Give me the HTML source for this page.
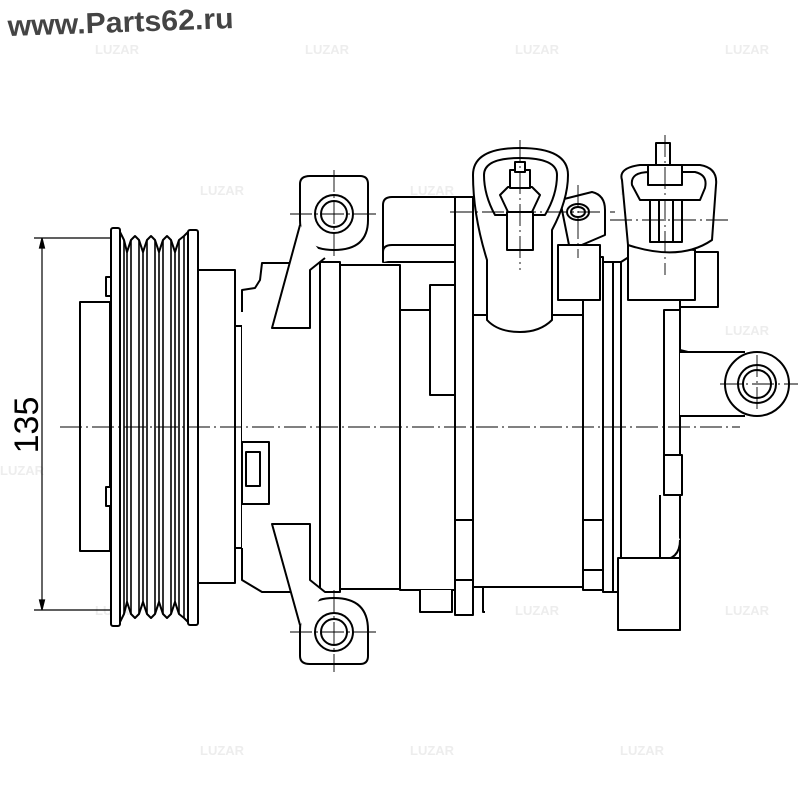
<!DOCTYPE html>
<html><head><meta charset="utf-8"><style>
html,body{margin:0;padding:0;background:#fff;}
svg{display:block;}
</style></head><body>
<svg width="800" height="800" viewBox="0 0 800 800" xmlns="http://www.w3.org/2000/svg">
<rect width="800" height="800" fill="#fff"/>
<g fill="#e2e2e2" font-family="Liberation Sans, sans-serif" font-size="13" font-weight="bold" opacity="0.6">
<text x="95" y="54">LUZAR</text><text x="305" y="54">LUZAR</text><text x="515" y="54">LUZAR</text><text x="725" y="54">LUZAR</text>
<text x="200" y="195">LUZAR</text><text x="410" y="195">LUZAR</text><text x="620" y="195">LUZAR</text>
<text x="95" y="335">LUZAR</text><text x="305" y="335">LUZAR</text><text x="515" y="335">LUZAR</text><text x="725" y="335">LUZAR</text>
<text x="0" y="475">LUZAR</text><text x="200" y="475">LUZAR</text><text x="410" y="475">LUZAR</text><text x="620" y="475">LUZAR</text>
<text x="95" y="615">LUZAR</text><text x="305" y="615">LUZAR</text><text x="515" y="615">LUZAR</text><text x="725" y="615">LUZAR</text>
<text x="200" y="755">LUZAR</text><text x="410" y="755">LUZAR</text><text x="620" y="755">LUZAR</text>
</g>
<text x="8" y="36" transform="rotate(-2 8 36)" font-family="Liberation Sans, sans-serif" font-weight="bold" font-size="29" fill="#444" textLength="226" lengthAdjust="spacingAndGlyphs">www.Parts62.ru</text>

<g fill="none" stroke="#000" stroke-width="1.2">
<line x1="34" y1="238" x2="110" y2="238"/><line x1="34" y1="610" x2="110" y2="610"/>
<line x1="42" y1="240" x2="42" y2="608"/>
<path d="M42 238 l-2.5 10 h5z M42 610 l-2.5 -10 h5z" fill="#000"/>
</g>
<text x="0" y="0" transform="translate(38 425) rotate(-90)" text-anchor="middle" font-family="Liberation Sans, sans-serif" font-size="34" fill="#000">135</text>

<g fill="#fff" stroke="#000" stroke-width="2" stroke-linejoin="round">
<rect x="80" y="302" width="30" height="249"/>
<rect x="106" y="277" width="5" height="19"/><rect x="106" y="487" width="5" height="19"/>
<rect x="111" y="228" width="9" height="398" rx="2"/>
<path d="M120 232 L124 240 L127 252 L131 240 L135 236 L139 240 L143 252 L147 240 L151 236 L155 240 L159 252 L163 240 L167 236 L171 240 L175 252 L179 240 L184 236 L188 232 L188 622 L184 618 L179 614 L175 602 L171 614 L167 618 L163 614 L159 602 L155 614 L151 618 L147 614 L143 602 L139 614 L135 618 L131 614 L127 602 L124 614 L120 622 Z"/>
<rect x="188" y="230" width="10" height="395" rx="2"/>
</g>
<g stroke="#000" stroke-width="1.6">
<line x1="124" y1="240" x2="124" y2="614"/><line x1="127" y1="252" x2="127" y2="602"/>
<line x1="131" y1="240" x2="131" y2="614"/><line x1="139" y1="240" x2="139" y2="614"/>
<line x1="143" y1="252" x2="143" y2="602"/><line x1="147" y1="240" x2="147" y2="614"/>
<line x1="155" y1="240" x2="155" y2="614"/><line x1="159" y1="252" x2="159" y2="602"/>
<line x1="163" y1="240" x2="163" y2="614"/><line x1="171" y1="240" x2="171" y2="614"/>
<line x1="175" y1="252" x2="175" y2="602"/><line x1="179" y1="240" x2="179" y2="614"/>
<line x1="184" y1="236" x2="184" y2="618"/>
</g>
<g fill="#fff" stroke="#000" stroke-width="2" stroke-linejoin="round">
<rect x="198" y="270" width="37" height="313"/>
<rect x="235" y="326" width="7" height="222"/>
<path d="M242 312 L242 290 L255 288 L260 280 L262 263 L290 263 L320 263 L320 592 L262 592 L242 580 L242 548"/>
<rect x="242" y="442" width="27" height="62"/>
<rect x="246" y="452" width="14" height="34"/>
<rect x="320" y="262" width="20" height="330"/>
<rect x="340" y="265" width="60" height="324"/>
<path d="M383 262 L383 205 Q383 197 392 197 L470 197 L470 262 Z"/>
<path d="M383 262 L383 252 Q383 245 392 245 L470 245"/>
<rect x="400" y="310" width="55" height="280"/>
<rect x="430" y="285" width="25" height="110"/>
<path d="M420 590 L420 612 L452 612 L452 590"/>
<rect x="455" y="197" width="18" height="418"/>
<line x1="455" y1="520" x2="473" y2="520"/>
<line x1="455" y1="580" x2="473" y2="580"/>
<rect x="473" y="315" width="110" height="272"/>
<path d="M483 587 L483 612 L485 612"/>
<rect x="583" y="257" width="20" height="333"/>
<line x1="583" y1="520" x2="603" y2="520"/><line x1="583" y1="570" x2="603" y2="570"/>
<rect x="603" y="262" width="10" height="330"/>
<rect x="613" y="262" width="8" height="330"/>
<path d="M560 200 L592 192 Q605 195 605 210 L605 235 L570 250 Z"/>
<ellipse cx="578" cy="212" rx="11" ry="8"/><ellipse cx="578" cy="212" rx="7" ry="5"/>
<rect x="558" y="245" width="42" height="55"/>
<path d="M473 175 Q473 148 520 148 Q568 148 568 175 Q568 200 552 230 L552 320 Q540 332 520 332 Q498 332 487 320 L487 260 Q473 215 473 175 Z"/>
<path d="M484 175 Q484 158 520 158 Q557 158 557 175 Q557 195 545 215 L495 215 Q484 195 484 175 Z"/>
<polygon points="500,195 508,187 532,187 540,195 532,212 508,212"/>
<rect x="510" y="170" width="20" height="18"/><rect x="515" y="162" width="10" height="10"/>
<rect x="507" y="212" width="26" height="38"/>
<path d="M621 262 L632 255 L680 255 L680 630 L621 630 Z"/>
<rect x="680" y="252" width="38" height="55"/>
<path d="M680 307 L680 350 L700 355"/>
<rect x="664" y="310" width="16" height="160"/>
<rect x="664" y="455" width="18" height="40"/>
<path d="M660 495 L660 560 Q680 560 680 540"/>
<rect x="618" y="558" width="62" height="72"/>
<circle cx="757" cy="384" r="32"/>
<rect x="680" y="352" width="40" height="64" stroke="none"/>
<path d="M680 352 L745 352 M680 416 L745 416"/>
<circle cx="757" cy="384" r="19"/><circle cx="757" cy="384" r="14"/>
<path d="M628 245 L628 300 L695 300 L695 250 Z"/>
<path d="M622 180 Q618 168 640 165 L700 165 Q718 168 716 185 L712 240 Q680 262 628 245 Z"/>
<path d="M632 185 Q630 172 650 172 L695 172 Q708 175 705 188 L700 200 L640 200 Z"/>
<rect x="648" y="165" width="34" height="20"/>
<rect x="656" y="143" width="14" height="22"/>
<rect x="650" y="200" width="32" height="42"/>
<line x1="659" y1="200" x2="659" y2="242"/><line x1="673" y1="200" x2="673" y2="242"/>
<path d="M310 176 L360 176 Q368 176 368 184 L368 220 Q368 250 334 250 Q300 250 300 220 L300 184 Q300 176 310 176 Z"/>
<path d="M300 225 L272 328 L310 328 L310 270 L325 258"/>
<circle cx="334" cy="214" r="19"/><circle cx="334" cy="214" r="13"/>
<path d="M310 664 L360 664 Q368 664 368 656 L368 630 Q368 598 334 598 Q300 598 300 630 L300 656 Q300 664 310 664 Z"/>
<path d="M300 625 L272 524 L310 524 L310 580 L325 592"/>
<circle cx="334" cy="632" r="19"/><circle cx="334" cy="632" r="13"/>
</g>
<g stroke="#000" stroke-width="0.9" stroke-dasharray="22 4 2 4" fill="none">
<line x1="60" y1="427" x2="740" y2="427"/>
<line x1="290" y1="214" x2="378" y2="214"/><line x1="334" y1="170" x2="334" y2="258"/>
<line x1="290" y1="632" x2="378" y2="632"/><line x1="334" y1="590" x2="334" y2="672"/>
<line x1="450" y1="212" x2="615" y2="212"/><line x1="520" y1="140" x2="520" y2="270"/>
<line x1="610" y1="220" x2="730" y2="220"/><line x1="665" y1="135" x2="665" y2="275"/>
<line x1="578" y1="185" x2="578" y2="258"/>
<line x1="720" y1="384" x2="798" y2="384"/><line x1="757" y1="355" x2="757" y2="412"/>
</g>
</svg>
</body></html>
